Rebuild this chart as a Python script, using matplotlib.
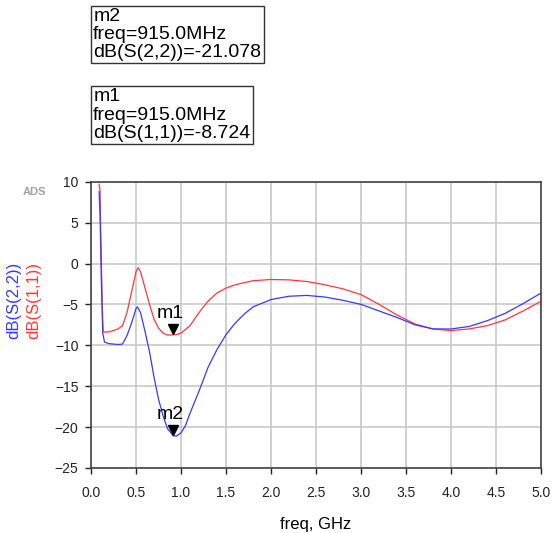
import matplotlib
matplotlib.use("Agg")
import matplotlib.pyplot as plt
from matplotlib.transforms import ScaledTranslation

plt.rcParams["font.family"] = ["Liberation Sans", "DejaVu Sans"]

# S11 (red)
freq_s11 = [0.09, 0.10, 0.115, 0.125, 0.135, 0.15, 0.2, 0.25, 0.3, 0.35, 0.4, 0.45,
            0.5, 0.525, 0.55, 0.6, 0.65, 0.7, 0.75, 0.8, 0.85, 0.915, 0.95, 1.0,
            1.1, 1.2, 1.3, 1.4, 1.5, 1.6, 1.8, 2.0, 2.2, 2.4, 2.6, 2.8, 3.0, 3.2,
            3.4, 3.6, 3.8, 4.0, 4.2, 4.4, 4.6, 4.8, 5.0]
db_s11 = [9.7, 9.0, 0.0, -5.0, -8.3, -8.4, -8.35, -8.2, -8.0, -7.6, -6.0, -3.5,
          -1.0, -0.5, -1.0, -3.0, -5.0, -6.8, -7.9, -8.5, -8.75, -8.724, -8.7, -8.5,
          -7.6, -6.0, -4.6, -3.6, -3.0, -2.6, -2.1, -1.95, -2.0, -2.2, -2.6, -3.1, -3.8, -5.0,
          -6.3, -7.4, -8.0, -8.2, -8.0, -7.6, -6.9, -5.8, -4.6]

# S22 (blue)
freq_s22 = [0.09, 0.10, 0.115, 0.13, 0.15, 0.2, 0.25, 0.3, 0.35, 0.4, 0.45, 0.5,
            0.515, 0.55, 0.6, 0.65, 0.7, 0.75, 0.8, 0.85, 0.915, 0.95, 1.0, 1.05,
            1.1, 1.2, 1.3, 1.4, 1.5, 1.6, 1.7, 1.8, 2.0, 2.2, 2.4, 2.6, 2.8, 3.0,
            3.2, 3.4, 3.6, 3.8, 4.0, 4.2, 4.4, 4.6, 4.8, 5.0]
db_s22 = [8.8, 6.0, -2.0, -8.5, -9.6, -9.8, -9.85, -9.9, -9.85, -8.8, -7.3, -5.5,
          -5.3, -6.0, -8.3, -10.8, -13.9, -16.6, -18.6, -20.2, -21.078, -21.1, -20.7, -19.8,
          -18.3, -15.6, -12.7, -10.5, -8.7, -7.3, -6.2, -5.3, -4.4, -4.0, -3.9, -4.1, -4.5, -5.0,
          -5.8, -6.6, -7.5, -8.0, -8.0, -7.7, -7.0, -6.1, -4.9, -3.6]

marker_names = ["m1", "m2"]
marker_freq = [0.915, 0.915]
marker_db = [-8.724, -21.078]
marker_text = ["m1\nfreq=915.0MHz\ndB(S(1,1))=-8.724",
               "m2\nfreq=915.0MHz\ndB(S(2,2))=-21.078"]

x_ticks = [0.0, 0.5, 1.0, 1.5, 2.0, 2.5, 3.0, 3.5, 4.0, 4.5, 5.0]
y_ticks = [10, 5, 0, -5, -10, -15, -20, -25]

fig = plt.figure(figsize=(5.55, 5.33), dpi=100)
ax = fig.add_axes([0.164, 0.122, 0.811, 0.537])

ax.plot(freq_s11, db_s11, color="#ff3838", lw=0.9)
ax.plot(freq_s22, db_s22, color="#3838ff", lw=0.9)

# marker triangles sit with their tip on the trace
shift = ScaledTranslation(0, 4 / 72, fig.dpi_scale_trans)
for name, f, d in zip(marker_names, marker_freq, marker_db):
    ax.plot([f], [d], marker="v", color="black", ms=7, ls="none",
            transform=ax.transData + shift)
    ax.annotate(name, (f, d), xytext=(-2, 9), textcoords="offset points",
                ha="center", va="bottom", fontsize=14)

ax.set_xlim(0, 5)
ax.set_ylim(-25, 10)
ax.set_xticks(x_ticks)
ax.set_xticklabels([f"{t:.1f}" for t in x_ticks])
ax.set_yticks(y_ticks)
ax.grid(True, color="#c8c8c8", lw=1.2)
ax.set_axisbelow(True)
ax.tick_params(colors="#222222", labelsize=10, length=4, width=1)
ax.tick_params(axis="x", pad=9)
ax.tick_params(axis="y", pad=5)
for s in ax.spines.values():
    s.set_color("#444444")
    s.set_linewidth(1.2)

ax.set_xlabel("freq, GHz", fontsize=12, labelpad=12)

fig.text(0.024, 0.437, "dB(S(2,2))", color="#3838ff", rotation=90,
         fontsize=12, ha="center", va="center")
fig.text(0.060, 0.437, "dB(S(1,1))", color="#ff3838", rotation=90,
         fontsize=12, ha="center", va="center")
fig.text(0.063, 0.64, "ADS", color="#a0a0a0", fontsize=8,
         fontweight="bold", ha="center", va="center")

box = dict(boxstyle="square,pad=0.12", fc="white", ec="#333333", lw=1)
fig.text(0.168, 0.985, marker_text[1], fontsize=14, va="top", ha="left",
         linespacing=1.08, bbox=box)
fig.text(0.168, 0.834, marker_text[0], fontsize=14, va="top", ha="left",
         linespacing=1.08, bbox=box)

fig.savefig("out.png", dpi=100)
